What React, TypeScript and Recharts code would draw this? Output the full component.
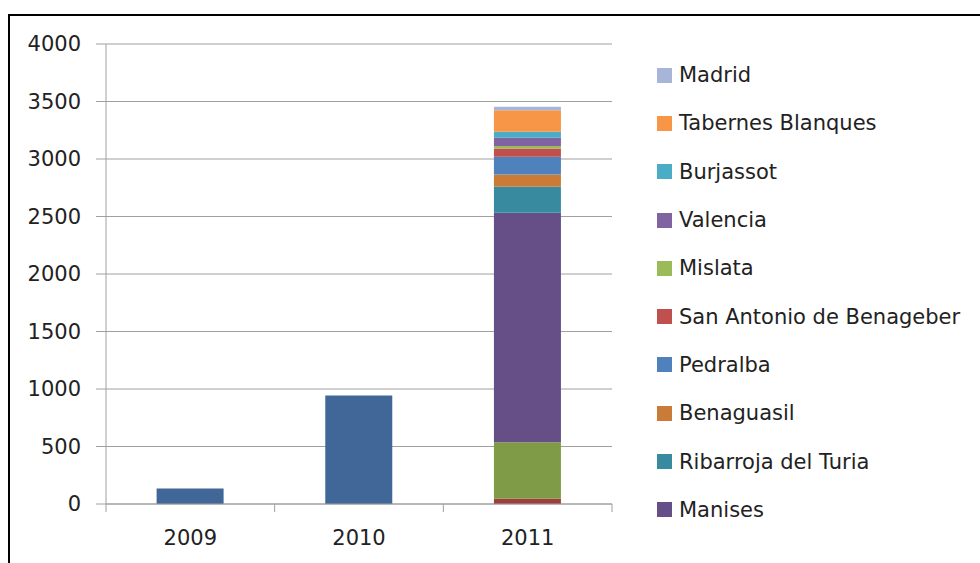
import * as React from 'react';
import { BarChart, Bar, XAxis, YAxis, CartesianGrid } from 'recharts';

// categories and series (stacked bottom -> top)
const years = ['2009', '2010', '2011'];

const serieBase = [135, 943, 0];
const serieRoja = [0, 0, 46];
const serieVerde = [0, 0, 492];
const manises = [0, 0, 1994];
const ribarroja = [0, 0, 226];
const benaguasil = [0, 0, 108];
const pedralba = [0, 0, 153];
const sanAntonio = [0, 0, 73];
const mislata = [0, 0, 20];
const valencia = [0, 0, 72];
const burjassot = [0, 0, 52];
const tabernes = [0, 0, 188];
const madrid = [0, 0, 30];

const yTicks = [0, 500, 1000, 1500, 2000, 2500, 3000, 3500, 4000];

// series in stacking order, legend flag says whether it is listed
const series = [
  { key: 'Serie 1', values: serieBase, color: '#416798', legend: false },
  { key: 'Serie 2', values: serieRoja, color: '#9e3f3c', legend: false },
  { key: 'Serie 3', values: serieVerde, color: '#7f9b48', legend: false },
  { key: 'Manises', values: manises, color: '#664f87', legend: true },
  { key: 'Ribarroja del Turia', values: ribarroja, color: '#388b9f', legend: true },
  { key: 'Benaguasil', values: benaguasil, color: '#c97b37', legend: true },
  { key: 'Pedralba', values: pedralba, color: '#4f81bd', legend: true },
  { key: 'San Antonio de Benageber', values: sanAntonio, color: '#c0504d', legend: true },
  { key: 'Mislata', values: mislata, color: '#9bbb59', legend: true },
  { key: 'Valencia', values: valencia, color: '#8064a2', legend: true },
  { key: 'Burjassot', values: burjassot, color: '#4bacc6', legend: true },
  { key: 'Tabernes Blanques', values: tabernes, color: '#f79646', legend: true },
  { key: 'Madrid', values: madrid, color: '#a7b6d8', legend: true },
];

const data = years.map((year, i) => {
  const row: Record<string, string | number> = { year };
  series.forEach(s => {
    row[s.key] = s.values[i];
  });
  return row;
});

const FONT = '"DejaVu Sans", sans-serif';
const AXIS = '#a0a0a0';
const PLOT_LEFT = 106;
const PLOT_RIGHT = 612;
const PLOT_BOTTOM = 504;
const BAND = (PLOT_RIGHT - PLOT_LEFT) / years.length;

const XTick = (props: any) => {
  const { x, payload, index } = props;
  const half = BAND / 2;
  return (
    <g>
      <line x1={x - half} x2={x - half} y1={PLOT_BOTTOM} y2={PLOT_BOTTOM + 8} stroke={AXIS} />
      {index === years.length - 1 && (
        <line x1={x + half} x2={x + half} y1={PLOT_BOTTOM} y2={PLOT_BOTTOM + 8} stroke={AXIS} />
      )}
      <text
        x={x}
        y={PLOT_BOTTOM + 34}
        textAnchor="middle"
        dominantBaseline="central"
        fill="#222"
        fontSize={21}
        fontFamily={FONT}
      >
        {payload.value}
      </text>
    </g>
  );
};

function LegendBox() {
  const items = series.filter(s => s.legend).reverse();
  return (
    <div style={{ position: 'absolute', left: 657, top: 51, fontFamily: FONT, fontSize: 21, color: '#222' }}>
      {items.map(s => (
        <div key={s.key} style={{ display: 'flex', alignItems: 'center', height: 48.3, whiteSpace: 'nowrap' }}>
          <span style={{ display: 'inline-block', width: 15, height: 15, background: s.color, marginRight: 7 }} />
          <span>{s.key}</span>
        </div>
      ))}
    </div>
  );
}

export default function App() {
  return (
    <div style={{ position: 'fixed', left: 0, top: 0, width: 980, height: 563, overflow: 'hidden', background: '#fff' }}>
      <div
        style={{
          position: 'absolute',
          left: 8,
          top: 14,
          width: 1000,
          height: 600,
          borderTop: '2px solid #000',
          borderLeft: '2px solid #000',
          boxSizing: 'border-box',
        }}
      />
      <div style={{ position: 'absolute', left: 0, top: 0 }}>
        <BarChart
          width={980}
          height={563}
          data={data}
          barCategoryGap="30%"
          margin={{ top: 44, right: 980 - PLOT_RIGHT, bottom: 29, left: 46 }}
        >
          <CartesianGrid vertical={false} stroke={AXIS} strokeWidth={1} />
          <XAxis
            dataKey="year"
            height={30}
            tickLine={false}
            axisLine={{ stroke: AXIS }}
            tick={<XTick />}
            interval={0}
          />
          <YAxis
            width={60}
            domain={[0, 4000]}
            ticks={yTicks}
            interval={0}
            tickSize={10}
            tickMargin={15}
            tickLine={{ stroke: AXIS }}
            axisLine={{ stroke: AXIS }}
            tick={{ fill: '#222', fontSize: 21, fontFamily: FONT }}
          />
          {series.map(s => (
            <Bar key={s.key} dataKey={s.key} stackId="a" fill={s.color} isAnimationActive={false} />
          ))}
        </BarChart>
      </div>
      <LegendBox />
    </div>
  );
}
